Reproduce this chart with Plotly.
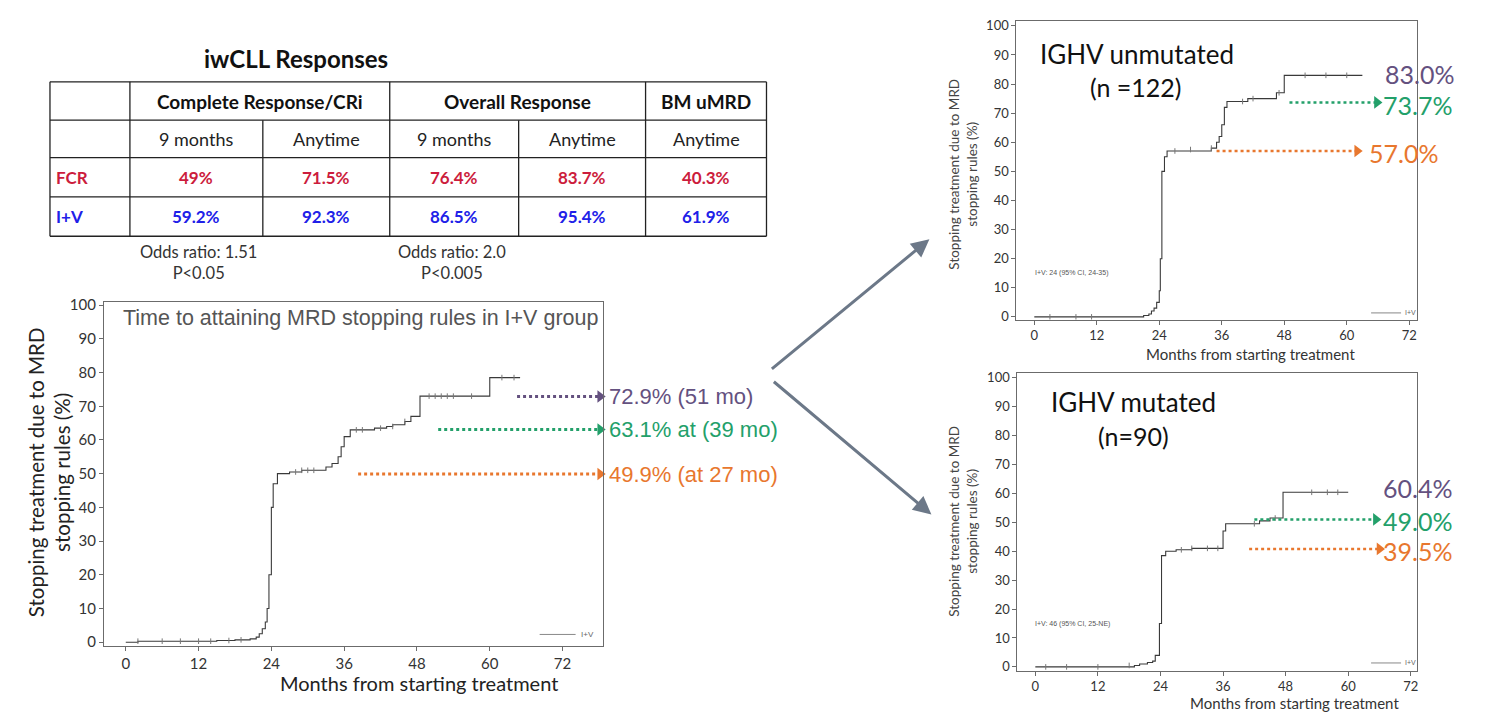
import plotly.graph_objects as go

# ---------------- DATA ----------------
# Table
table_title = "iwCLL Responses"
col_groups = ["Complete Response/CRi", "Overall Response", "BM uMRD"]
sub_headers = ["9 months", "Anytime", "9 months", "Anytime", "Anytime"]
row_labels = ["FCR", "I+V"]
fcr_vals = ["49%", "71.5%", "76.4%", "83.7%", "40.3%"]
iv_vals = ["59.2%", "92.3%", "86.5%", "95.4%", "61.9%"]
odds_notes = ["Odds ratio: 1.51<br>P<0.05", "Odds ratio: 2.0<br>P<0.005"]

# Main KM curve (I+V overall)
main_t = [0, 2, 15, 18, 20.5, 21.5, 22, 22.5, 23, 23.3, 23.6, 24, 24.3, 25, 27, 29, 33, 34, 35, 35.5, 36, 37, 41,
          43, 44, 46, 47, 48.5, 60, 65]
main_y = [0, 0.3, 0.5, 0.7, 1, 1.5, 2.5, 4, 6, 10, 20, 40, 47, 50, 50.5, 51, 52, 53, 55, 58, 61, 63, 63.5,
          64, 64.5, 65.5, 67, 73, 78.5, 78.5]
main_cens_t = [2, 6, 9, 12, 14, 17, 19, 28, 29, 30, 31, 38, 39, 42, 44, 46, 50, 51, 52, 53, 54, 57, 62, 64]
main_cens_y = [0.3, 0.3, 0.3, 0.3, 0.3, 0.5, 0.7, 50.5, 51, 51, 51, 63, 63, 63.5, 64, 65.5, 73, 73, 73, 73, 73, 73, 78.5, 78.5]
main_marks = [72.9, 63.1, 49.9]
main_mark_start = [64.5, 51.5, 38.3]
main_mark_labels = ["72.9% (51 mo)", "63.1% at (39 mo)", "49.9% (at 27 mo)"]

# IGHV unmutated
um_t = [0, 21, 22, 22.5, 23, 23.5, 24, 24.2, 24.5, 25, 25.5, 33, 34, 35, 35.5, 36, 36.5, 37, 41, 46.5, 48, 63]
um_y = [0, 0.5, 1, 2, 3, 5, 9, 20, 50, 55, 57, 57, 58, 60, 62, 66, 72, 74, 75, 77, 83, 83]
um_cens_t = [3, 8, 11, 27, 30, 34, 40, 42, 47, 52, 56, 60]
um_cens_y = [0, 0, 0, 57, 57.5, 58, 74, 75, 77, 83, 83, 83]
um_marks = [73.7, 57.0]
um_mark_start = [49, 35]
um_mark_end = [65.8, 62]
um_label_vals = ["83.0%", "73.7%", "57.0%"]
um_label_y = [83.5, 72.8, 56.2]
um_note = "I+V: 24 (95% CI, 24-35)"

# IGHV mutated
mu_t = [0, 19, 20, 21.5, 22.5, 23, 23.8, 24.2, 25, 27, 30, 35.7, 36, 36.5, 43, 45, 47.5, 60]
mu_y = [0, 0.5, 1, 1.5, 2, 4, 15, 38.5, 40, 40.5, 41, 41, 47, 49.5, 50.5, 51.5, 60.4, 60.4]
mu_cens_t = [2, 6, 12, 18, 28, 30, 33, 35, 42, 46, 53, 56, 58]
mu_cens_y = [0, 0, 0, 0.5, 40.5, 41, 41, 41, 49.5, 51.5, 60.4, 60.4, 60.4]
mu_marks = [51.0, 40.8]
mu_mark_start = [42, 41]
mu_mark_end = [65.3, 66]
mu_label_vals = ["60.4%", "49.0%", "39.5%"]
mu_label_y = [62, 50.5, 40]
mu_note = "I+V: 46 (95% CI, 25-NE)"

x_ticks = [0, 12, 24, 36, 48, 60, 72]
y_ticks = [0, 10, 20, 30, 40, 50, 60, 70, 80, 90, 100]
x_title = "Months from starting treatment"
y_title = "Stopping treatment due to MRD<br>stopping rules (%)"

PURPLE = "#64517f"
GREEN = "#23a06a"
ORANGE = "#e8772e"
CURVE = "#3a3a3a"
CENS = "#777777"
W, H = 1489, 716
OFF = 8  # page body margin of the html page


def px(x):
    return (x - OFF) / W


def py(y):
    return 1 - (y - OFF) / H


FONT = "Lato, Carlito, Calibri, sans-serif"
ARIAL = "Liberation Sans, Arial, sans-serif"

fig = go.Figure()


def add_curve(t, y, ct, cy, xa, ya):
    fig.add_trace(go.Scatter(x=t, y=y, mode="lines", line=dict(color=CURVE, width=1.1, shape="hv"),
                             xaxis=xa, yaxis=ya, showlegend=False, hoverinfo="skip"))
    fig.add_trace(go.Scatter(x=ct, y=cy, mode="markers",
                             marker=dict(symbol="line-ns", size=4, line=dict(color=CENS, width=1)),
                             xaxis=xa, yaxis=ya, showlegend=False, hoverinfo="skip"))


def add_arrow(x0, x1, yv, color, xa, ya, width=3):
    fig.add_trace(go.Scatter(x=[x0, x1], y=[yv, yv], mode="lines",
                             line=dict(color=color, width=width, dash="dot"),
                             xaxis=xa, yaxis=ya, showlegend=False, hoverinfo="skip", cliponaxis=False))
    fig.add_trace(go.Scatter(x=[x1], y=[yv], mode="markers",
                             marker=dict(symbol="triangle-right", size=11, color=color),
                             xaxis=xa, yaxis=ya, showlegend=False, hoverinfo="skip", cliponaxis=False))


annotations = []
shapes = []


def ann(x, y, text, size, color, family=FONT, xanchor="center", yanchor="middle", xref="paper", yref="paper",
        angle=0):
    annotations.append(dict(x=x, y=y, xref=xref, yref=yref, text=text, showarrow=False, textangle=angle,
                            xanchor=xanchor, yanchor=yanchor, font=dict(family=family, size=size, color=color)))


# Main panel
add_curve(main_t, main_y, main_cens_t, main_cens_y, "x", "y")
colors_main = [PURPLE, GREEN, ORANGE]
for v, s, c, lab in zip(main_marks, main_mark_start, colors_main, main_mark_labels):
    add_arrow(s, 78.2, v, c, "x", "y")
    ann(px(607), v, lab, 22, c, family=ARIAL, xanchor="left", yref="y")

# Unmutated panel
add_curve(um_t, um_y, um_cens_t, um_cens_y, "x2", "y2")
for v, s, e, c in zip(um_marks, um_mark_start, um_mark_end, [GREEN, ORANGE]):
    add_arrow(s, e, v, c, "x2", "y2", width=2.5)
for lab, ly, c, lx in zip(um_label_vals, um_label_y, [PURPLE, GREEN, ORANGE], [67.0, 66.5, 63.8]):
    ann(lx, ly, lab, 25, c, xanchor="left", xref="x2", yref="y2")

# Mutated panel
add_curve(mu_t, mu_y, mu_cens_t, mu_cens_y, "x3", "y3")
for v, s, e, c in zip(mu_marks, mu_mark_start, mu_mark_end, [GREEN, ORANGE]):
    add_arrow(s, e, v, c, "x3", "y3", width=2.5)
for lab, ly, c, lx in zip(mu_label_vals, mu_label_y, [PURPLE, GREEN, ORANGE], [66.3, 66.3, 66.3]):
    ann(lx, ly, lab, 25, c, xanchor="left", xref="x3", yref="y3")


def axis_style(size):
    return dict(showgrid=False, zeroline=False, showline=True, mirror=True, linecolor="#6b6b6b",
                linewidth=1, ticks="outside", ticklen=4, tickcolor="#6b6b6b",
                tickfont=dict(family=FONT, size=size, color="#333"))


fig.update_layout(
    xaxis=dict(domain=[px(104), px(603)], range=[-3.6, 78.6], tickvals=x_ticks, anchor="y", **axis_style(15)),
    yaxis=dict(domain=[py(650), py(300)], range=[-1.2, 100.9], tickvals=y_ticks, anchor="x", **axis_style(15)),
    xaxis2=dict(domain=[px(1017), px(1418)], range=[-3.45, 73.5], tickvals=x_ticks, anchor="y2", **axis_style(13)),
    yaxis2=dict(domain=[py(318), py(14)], range=[-1.0, 101.7], tickvals=y_ticks, anchor="x2", **axis_style(13)),
    xaxis3=dict(domain=[px(1018), px(1418)], range=[-3.45, 73.2], tickvals=x_ticks, anchor="y3", **axis_style(13)),
    yaxis3=dict(domain=[py(675), py(372)], range=[-1.36, 101.7], tickvals=y_ticks, anchor="x3", **axis_style(13)),
)

# axis titles
ann(px(419), py(687), x_title, 20, "#222")
ann(px(49), py(473), y_title, 20.5, "#222", angle=-90)
ann(px(1251), py(353), x_title, 15, "#333")
ann(px(964), py(170), y_title, 13.5, "#444", angle=-90)
ann(px(1295), py(708), x_title, 15, "#333")
ann(px(964), py(523), y_title, 13.5, "#444", angle=-90)

# main panel title and legend
ann(px(121), py(316), "Time to attaining MRD stopping rules in I+V group", 21.5, "#555", family=ARIAL, xanchor="left")
shapes.append(dict(type="line", xref="paper", yref="paper", x0=px(540), x1=px(576), y0=py(638), y1=py(638),
                   line=dict(color="#888", width=1)))
ann(px(579), py(638), "I+V", 8, "#666", family=ARIAL, xanchor="left")

# right panels titles / notes / legends
ann(px(1138), py(48), "IGHV unmutated", 26, "#111")
ann(px(1137), py(81), "(n =122)", 25, "#111")
ann(px(1134), py(402), "IGHV mutated", 26, "#111")
ann(px(1134), py(436), "(n=90)", 25, "#111")
ann(px(1034), py(270), um_note, 7, "#555", family=ARIAL, xanchor="left")
ann(px(1034), py(627), mu_note, 7, "#555", family=ARIAL, xanchor="left")
for ly in [311, 667]:
    shapes.append(dict(type="line", xref="paper", yref="paper", x0=px(1372), x1=px(1402), y0=py(ly), y1=py(ly),
                       line=dict(color="#888", width=1)))
    ann(px(1404), py(ly), "I+V", 7, "#666", family=ARIAL, xanchor="left")

# big connecting arrows
for (hx, hy, tx_, ty_) in [(930, 236, 771, 367), (932, 516, 773, 382)]:
    annotations.append(dict(x=px(hx), y=py(hy), xref="paper", yref="paper", ax=tx_ - hx, ay=ty_ - hy,
                            axref="pixel", ayref="pixel", text="", showarrow=True, arrowhead=2,
                            arrowsize=1.2, arrowwidth=3, arrowcolor="#6c7888"))

# ---------- table ----------
tx = [50, 130, 263, 390, 519, 646, 767]
ty = [76, 115, 153, 193, 233]
lc = dict(color="#222", width=1.3)
for yv in ty:
    shapes.append(dict(type="line", xref="paper", yref="paper", x0=px(tx[0]), x1=px(tx[-1]), y0=py(yv), y1=py(yv),
                       line=lc))
for i, xv in enumerate(tx):
    y0 = ty[1] if i in (2, 4) else ty[0]
    shapes.append(dict(type="line", xref="paper", yref="paper", x0=px(xv), x1=px(xv), y0=py(y0), y1=py(ty[-1]),
                       line=lc))

ann(px(296), py(52), f"<b>{table_title}</b>", 24, "#111")
group_spans = [(tx[1], tx[3]), (tx[3], tx[5]), (tx[5], tx[6])]
for g, (a, b) in zip(col_groups, group_spans):
    ann(px((a + b) / 2), py((ty[0] + ty[1]) / 2), f"<b>{g}</b>", 19, "#111")
for j, s in enumerate(sub_headers):
    ann(px((tx[j + 1] + tx[j + 2]) / 2), py((ty[1] + ty[2]) / 2), s, 18, "#222")
row_colors = ["#cc1c3c", "#2020e8"]
for r, (lab, vals, col) in enumerate(zip(row_labels, [fcr_vals, iv_vals], row_colors)):
    ymid = py((ty[2 + r] + ty[3 + r]) / 2)
    ann(px(tx[0] + 4), ymid, f"<b>{lab}</b>", 17, col, xanchor="left")
    for j, v in enumerate(vals):
        ann(px((tx[j + 1] + tx[j + 2]) / 2), ymid, f"<b>{v}</b>", 17, col)
for note, cx in zip(odds_notes, [199, 452]):
    ann(px(cx), py(260), note, 16.5, "#333")

fig.update_layout(width=W, height=H, margin=dict(l=0, r=0, t=0, b=0), paper_bgcolor="white",
                  plot_bgcolor="white", shapes=shapes, annotations=annotations, showlegend=False)

fig.write_html("out.html", config={"displayModeBar": False})
